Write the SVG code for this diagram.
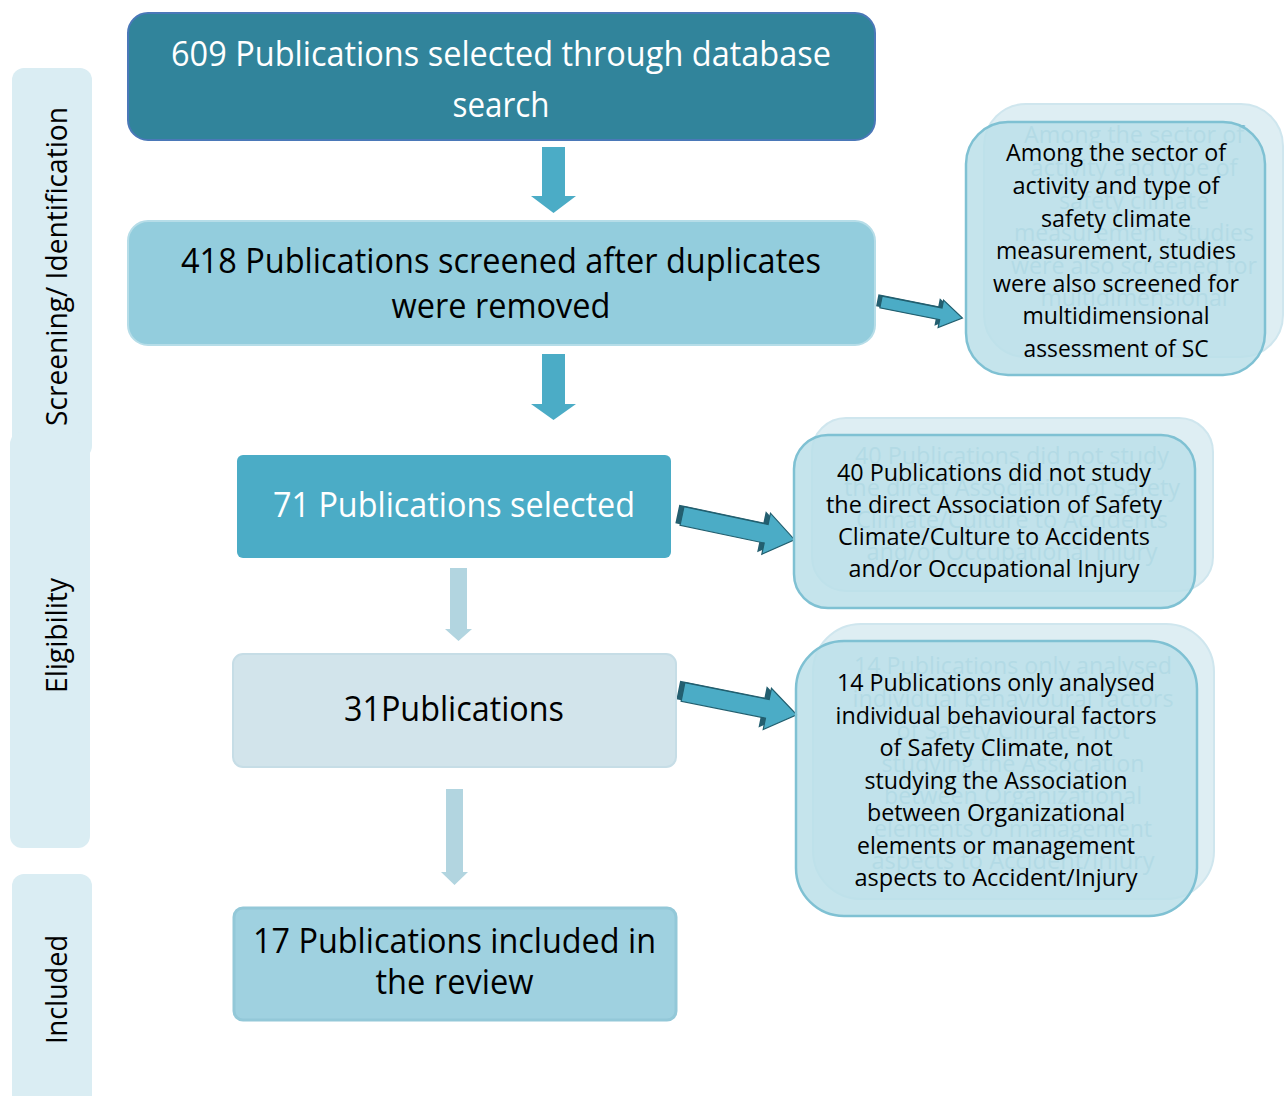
<svg xmlns="http://www.w3.org/2000/svg" width="1287" height="1096" viewBox="0 0 1287 1096">
<style>
text{font-family:"Open Sans","Noto Sans","Liberation Sans",sans-serif;}
.big{font-size:35px;text-anchor:middle;}
.small{font-size:23px;text-anchor:middle;fill:#000;}
.side{font-size:29px;text-anchor:middle;fill:#000;}
.bar{fill:#daedf3;}
.ghostbox{fill:#deeef3;stroke:#cfe6ee;stroke-width:2;}
.ghosttxt{font-size:23px;text-anchor:middle;fill:#7fb9ca;}
.front{fill:#bbdfe9;fill-opacity:0.86;stroke:#7fc1d3;stroke-width:2.5;}
.darr{fill:#4bacc6;}
.larr{fill:#b2d5e0;}
.harr{fill:#4bacc6;stroke:#215e6e;stroke-width:1.2;stroke-linejoin:miter;}
.hshadow{fill:#245f70;}
</style>

<g id="side-bars">
  <g id="bar-screening">
    <rect class="bar" x="12" y="68" width="80" height="390" rx="12"/>
    <text class="side" transform="translate(67,266.5) rotate(-90)" textLength="319" lengthAdjust="spacingAndGlyphs">Screening/ Identification</text>
  </g>
  <g id="bar-eligibility">
    <rect class="bar" x="10" y="432" width="80" height="416" rx="12"/>
    <text class="side" transform="translate(67,635.5) rotate(-90)" textLength="115" lengthAdjust="spacingAndGlyphs">Eligibility</text>
  </g>
  <g id="bar-included">
    <rect class="bar" x="12" y="874" width="80" height="240" rx="12"/>
    <text class="side" transform="translate(67,989.5) rotate(-90)" textLength="109" lengthAdjust="spacingAndGlyphs">Included</text>
  </g>
</g>

<g id="connectors">
  <polygon class="darr" points="542,147 565,147 565,196 576,196 553.5,213 531,196 542,196"/>
  <polygon class="darr" points="542,354 565,354 565,404 576,404 553.5,420 531,404 542,404"/>
  <polygon class="larr" points="450,568 467,568 467,629 472,629 458.5,641 445,629 450,629"/>
  <polygon class="larr" points="446,789 463,789 463,872 468,872 454.5,885 441,872 446,872"/>
  <g transform="translate(881,302) rotate(11.2)">
    <polygon class="hshadow" transform="translate(-4,-1)" points="0,-6 61,-6 61,-14 83,0 61,14 61,6 0,6"/>
    <polygon class="harr" points="0,-6 61,-6 61,-14 83,0 61,14 61,6 0,6"/>
  </g>
  <g transform="translate(682,516) rotate(11.9)">
    <polygon class="hshadow" transform="translate(-5,-1)" points="0,-9.5 86,-9.5 86,-21 115,0 86,21 86,9.5 0,9.5"/>
    <polygon class="harr" points="0,-9.5 86,-9.5 86,-21 115,0 86,21 86,9.5 0,9.5"/>
  </g>
  <g transform="translate(683,692) rotate(11.3)">
    <polygon class="hshadow" transform="translate(-5,-1)" points="0,-9.5 86,-9.5 86,-21 116,0 86,21 86,9.5 0,9.5"/>
    <polygon class="harr" points="0,-9.5 86,-9.5 86,-21 116,0 86,21 86,9.5 0,9.5"/>
  </g>
</g>

<g id="node-609">
  <rect x="128" y="13" width="747" height="127" rx="20" fill="#31849b" stroke="#4a78b8" stroke-width="2"/>
  <text class="big" fill="#fff" x="501" y="66" textLength="660" lengthAdjust="spacingAndGlyphs">609 Publications selected through database</text>
  <text class="big" fill="#fff" x="501" y="117" textLength="97" lengthAdjust="spacingAndGlyphs">search</text>
</g>

<g id="node-418">
  <rect x="128" y="221" width="747" height="124" rx="20" fill="#93cddd" stroke="#b6dde8" stroke-width="2"/>
  <text class="big" fill="#000" x="501" y="273" textLength="640" lengthAdjust="spacingAndGlyphs">418 Publications screened after duplicates</text>
  <text class="big" fill="#000" x="501" y="318" textLength="219" lengthAdjust="spacingAndGlyphs">were removed</text>
</g>

<g id="node-71">
  <rect x="237" y="455" width="434" height="103" rx="6" fill="#4bacc6"/>
  <text class="big" fill="#fff" x="454" y="517" textLength="362" lengthAdjust="spacingAndGlyphs">71 Publications selected</text>
</g>

<g id="node-31">
  <rect x="233" y="654" width="443" height="113" rx="10" fill="#d2e4eb" stroke="#c6dde6" stroke-width="2"/>
  <text class="big" fill="#000" x="454" y="721" textLength="220" lengthAdjust="spacingAndGlyphs">31Publications</text>
</g>

<g id="node-17">
  <rect x="234" y="908" width="442" height="112" rx="9" fill="#9fd1e0" stroke="#93c8d8" stroke-width="3"/>
  <text class="big" fill="#000" x="454.5" y="953" textLength="403" lengthAdjust="spacingAndGlyphs">17 Publications included in</text>
  <text class="big" fill="#000" x="454.5" y="994" textLength="158" lengthAdjust="spacingAndGlyphs">the review</text>
</g>

<g id="note-multidimensional">
  <g transform="translate(18,-18)">
    <rect class="ghostbox" x="966" y="122" width="299" height="253" rx="42"/>
    <text class="ghosttxt" x="1116" y="161" textLength="220" lengthAdjust="spacingAndGlyphs">Among the sector of</text>
    <text class="ghosttxt" x="1116" y="194" textLength="207" lengthAdjust="spacingAndGlyphs">activity and type of</text>
    <text class="ghosttxt" x="1116" y="227" textLength="150" lengthAdjust="spacingAndGlyphs">safety climate</text>
    <text class="ghosttxt" x="1116" y="259" textLength="240" lengthAdjust="spacingAndGlyphs">measurement, studies</text>
    <text class="ghosttxt" x="1116" y="292" textLength="246" lengthAdjust="spacingAndGlyphs">were also screened for</text>
    <text class="ghosttxt" x="1116" y="324" textLength="187" lengthAdjust="spacingAndGlyphs">multidimensional</text>
  </g>
  <rect class="front" x="966" y="122" width="299" height="253" rx="42"/>
  <text class="small" x="1116" y="161" textLength="220" lengthAdjust="spacingAndGlyphs">Among the sector of</text>
  <text class="small" x="1116" y="194" textLength="207" lengthAdjust="spacingAndGlyphs">activity and type of</text>
  <text class="small" x="1116" y="227" textLength="150" lengthAdjust="spacingAndGlyphs">safety climate</text>
  <text class="small" x="1116" y="259" textLength="240" lengthAdjust="spacingAndGlyphs">measurement, studies</text>
  <text class="small" x="1116" y="292" textLength="246" lengthAdjust="spacingAndGlyphs">were also screened for</text>
  <text class="small" x="1116" y="324" textLength="187" lengthAdjust="spacingAndGlyphs">multidimensional</text>
  <text class="small" x="1116" y="357" textLength="185" lengthAdjust="spacingAndGlyphs">assessment of SC</text>
</g>

<g id="note-40">
  <g transform="translate(18,-17)">
    <rect class="ghostbox" x="794" y="435" width="401" height="173" rx="34"/>
    <text class="ghosttxt" x="994" y="481" textLength="314" lengthAdjust="spacingAndGlyphs">40 Publications did not study</text>
    <text class="ghosttxt" x="994" y="513" textLength="336" lengthAdjust="spacingAndGlyphs">the direct Association of Safety</text>
    <text class="ghosttxt" x="994" y="545" textLength="312" lengthAdjust="spacingAndGlyphs">Climate/Culture to Accidents</text>
    <text class="ghosttxt" x="994" y="577" textLength="291" lengthAdjust="spacingAndGlyphs">and/or Occupational Injury</text>
  </g>
  <rect class="front" x="794" y="435" width="401" height="173" rx="34"/>
  <text class="small" x="994" y="481" textLength="314" lengthAdjust="spacingAndGlyphs">40 Publications did not study</text>
  <text class="small" x="994" y="513" textLength="336" lengthAdjust="spacingAndGlyphs">the direct Association of Safety</text>
  <text class="small" x="994" y="545" textLength="312" lengthAdjust="spacingAndGlyphs">Climate/Culture to Accidents</text>
  <text class="small" x="994" y="577" textLength="291" lengthAdjust="spacingAndGlyphs">and/or Occupational Injury</text>
</g>

<g id="note-14">
  <g transform="translate(17,-17)">
    <rect class="ghostbox" x="796" y="641" width="401" height="275" rx="48"/>
    <text class="ghosttxt" x="996" y="691" textLength="318" lengthAdjust="spacingAndGlyphs">14 Publications only analysed</text>
    <text class="ghosttxt" x="996" y="723.5" textLength="321" lengthAdjust="spacingAndGlyphs">individual behavioural factors</text>
    <text class="ghosttxt" x="996" y="756" textLength="233" lengthAdjust="spacingAndGlyphs">of Safety Climate, not</text>
    <text class="ghosttxt" x="996" y="788.5" textLength="263" lengthAdjust="spacingAndGlyphs">studying the Association</text>
    <text class="ghosttxt" x="996" y="821" textLength="258" lengthAdjust="spacingAndGlyphs">between Organizational</text>
    <text class="ghosttxt" x="996" y="853.5" textLength="278" lengthAdjust="spacingAndGlyphs">elements or management</text>
    <text class="ghosttxt" x="996" y="886" textLength="283" lengthAdjust="spacingAndGlyphs">aspects to Accident/Injury</text>
  </g>
  <rect class="front" x="796" y="641" width="401" height="275" rx="48"/>
  <text class="small" x="996" y="691" textLength="318" lengthAdjust="spacingAndGlyphs">14 Publications only analysed</text>
  <text class="small" x="996" y="723.5" textLength="321" lengthAdjust="spacingAndGlyphs">individual behavioural factors</text>
  <text class="small" x="996" y="756" textLength="233" lengthAdjust="spacingAndGlyphs">of Safety Climate, not</text>
  <text class="small" x="996" y="788.5" textLength="263" lengthAdjust="spacingAndGlyphs">studying the Association</text>
  <text class="small" x="996" y="821" textLength="258" lengthAdjust="spacingAndGlyphs">between Organizational</text>
  <text class="small" x="996" y="853.5" textLength="278" lengthAdjust="spacingAndGlyphs">elements or management</text>
  <text class="small" x="996" y="886" textLength="283" lengthAdjust="spacingAndGlyphs">aspects to Accident/Injury</text>
</g>
</svg>
